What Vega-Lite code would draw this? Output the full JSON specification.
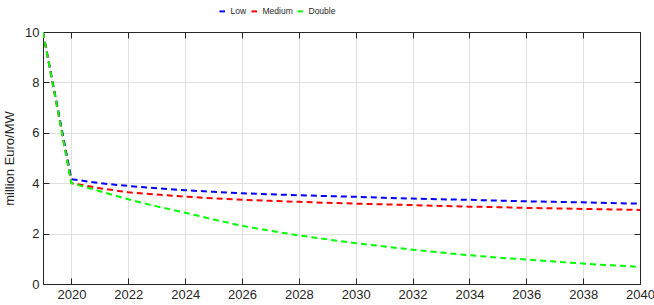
{
  "$schema": "https://vega.github.io/schema/vega-lite/v6.json",
  "width": 597,
  "height": 252,
  "autosize": {"type": "none"},
  "padding": {"left": 43, "top": 32, "right": 14, "bottom": 21},
  "background": "white",
  "config": {
    "view": {"stroke": null},
    "font": "Liberation Sans",
    "axis": {
      "domainColor": "#262626",
      "tickColor": "#262626",
      "labelColor": "#262626",
      "titleColor": "#262626",
      "labelFont": "Liberation Sans",
      "titleFont": "Liberation Sans",
      "labelFontSize": 13,
      "titleFontSize": 13,
      "titleFontWeight": "normal",
      "gridColor": "#e0e0e0",
      "gridWidth": 1,
      "domainWidth": 1,
      "tickWidth": 1
    }
  },
  "data": {
    "values": [
      {"year": 2019, "value": 10, "series": "Low"},
      {"year": 2020, "value": 4.16, "series": "Low"},
      {"year": 2021, "value": 4.0, "series": "Low"},
      {"year": 2022, "value": 3.89, "series": "Low"},
      {"year": 2023, "value": 3.8, "series": "Low"},
      {"year": 2024, "value": 3.72, "series": "Low"},
      {"year": 2025, "value": 3.66, "series": "Low"},
      {"year": 2026, "value": 3.6, "series": "Low"},
      {"year": 2027, "value": 3.56, "series": "Low"},
      {"year": 2028, "value": 3.52, "series": "Low"},
      {"year": 2029, "value": 3.49, "series": "Low"},
      {"year": 2030, "value": 3.46, "series": "Low"},
      {"year": 2031, "value": 3.42, "series": "Low"},
      {"year": 2032, "value": 3.39, "series": "Low"},
      {"year": 2033, "value": 3.36, "series": "Low"},
      {"year": 2034, "value": 3.34, "series": "Low"},
      {"year": 2035, "value": 3.31, "series": "Low"},
      {"year": 2036, "value": 3.28, "series": "Low"},
      {"year": 2037, "value": 3.26, "series": "Low"},
      {"year": 2038, "value": 3.24, "series": "Low"},
      {"year": 2039, "value": 3.21, "series": "Low"},
      {"year": 2040, "value": 3.19, "series": "Low"},
      {"year": 2019, "value": 10, "series": "Medium"},
      {"year": 2020, "value": 4.0, "series": "Medium"},
      {"year": 2021, "value": 3.8, "series": "Medium"},
      {"year": 2022, "value": 3.64, "series": "Medium"},
      {"year": 2023, "value": 3.55, "series": "Medium"},
      {"year": 2024, "value": 3.47, "series": "Medium"},
      {"year": 2025, "value": 3.4, "series": "Medium"},
      {"year": 2026, "value": 3.34, "series": "Medium"},
      {"year": 2027, "value": 3.3, "series": "Medium"},
      {"year": 2028, "value": 3.26, "series": "Medium"},
      {"year": 2029, "value": 3.22, "series": "Medium"},
      {"year": 2030, "value": 3.19, "series": "Medium"},
      {"year": 2031, "value": 3.16, "series": "Medium"},
      {"year": 2032, "value": 3.13, "series": "Medium"},
      {"year": 2033, "value": 3.1, "series": "Medium"},
      {"year": 2034, "value": 3.07, "series": "Medium"},
      {"year": 2035, "value": 3.05, "series": "Medium"},
      {"year": 2036, "value": 3.02, "series": "Medium"},
      {"year": 2037, "value": 3.0, "series": "Medium"},
      {"year": 2038, "value": 2.98, "series": "Medium"},
      {"year": 2039, "value": 2.96, "series": "Medium"},
      {"year": 2040, "value": 2.94, "series": "Medium"},
      {"year": 2019, "value": 10, "series": "Double"},
      {"year": 2020, "value": 4.0, "series": "Double"},
      {"year": 2021, "value": 3.68, "series": "Double"},
      {"year": 2022, "value": 3.36, "series": "Double"},
      {"year": 2023, "value": 3.08, "series": "Double"},
      {"year": 2024, "value": 2.83, "series": "Double"},
      {"year": 2025, "value": 2.56, "series": "Double"},
      {"year": 2026, "value": 2.31, "series": "Double"},
      {"year": 2027, "value": 2.11, "series": "Double"},
      {"year": 2028, "value": 1.93, "series": "Double"},
      {"year": 2029, "value": 1.77, "series": "Double"},
      {"year": 2030, "value": 1.62, "series": "Double"},
      {"year": 2031, "value": 1.49, "series": "Double"},
      {"year": 2032, "value": 1.36, "series": "Double"},
      {"year": 2033, "value": 1.25, "series": "Double"},
      {"year": 2034, "value": 1.14, "series": "Double"},
      {"year": 2035, "value": 1.05, "series": "Double"},
      {"year": 2036, "value": 0.97, "series": "Double"},
      {"year": 2037, "value": 0.89, "series": "Double"},
      {"year": 2038, "value": 0.81, "series": "Double"},
      {"year": 2039, "value": 0.74, "series": "Double"},
      {"year": 2040, "value": 0.68, "series": "Double"}
    ]
  },
  "layer": [
    {
      "mark": {"type": "point", "opacity": 0},
      "encoding": {
        "x": {"field": "year", "type": "quantitative", "scale": {"domain": [2019, 2040], "nice": false, "zero": false},
          "axis": {"orient": "top", "values": [2020, 2022, 2024, 2026, 2028, 2030, 2032, 2034, 2036, 2038, 2040], "labels": false, "grid": true, "tickSize": -6, "title": null}},
        "y": {"field": "value", "type": "quantitative", "scale": {"domain": [0, 10], "nice": false},
          "axis": {"orient": "right", "values": [0, 2, 4, 6, 8, 10], "labels": false, "grid": true, "tickSize": -6, "title": null}}
      }
    },
    {
      "mark": {"type": "line", "strokeWidth": 2, "strokeDash": [6, 4], "clip": true},
      "encoding": {
        "x": {"field": "year", "type": "quantitative",
          "axis": {"orient": "bottom", "values": [2020, 2022, 2024, 2026, 2028, 2030, 2032, 2034, 2036, 2038, 2040], "format": "d", "grid": false, "tickSize": -6, "labelPadding": 10, "title": null, "labelFlush": false}},
        "y": {"field": "value", "type": "quantitative",
          "axis": {"orient": "left", "values": [0, 2, 4, 6, 8, 10], "grid": false, "tickSize": -6, "labelPadding": 10, "title": "million Euro/MW", "titlePadding": 8}},
        "color": {"field": "series", "type": "nominal",
          "scale": {"domain": ["Low", "Medium", "Double"], "range": ["#0000ff", "#ff0000", "#00ff00"]},
          "legend": {"orient": "none", "legendX": 175, "legendY": -25, "direction": "horizontal", "title": null,
            "symbolType": "stroke", "symbolStrokeWidth": 2, "symbolSize": 30, "labelFontSize": 8.5, "labelFont": "Liberation Sans", "labelColor": "#262626", "columnPadding": 0, "labelOffset": 4, "symbolOffset": 0}
        },
        "order": {"field": "year", "type": "quantitative"}
      }
    }
  ],
  "resolve": {"axis": {"x": "independent", "y": "independent"}}
}
